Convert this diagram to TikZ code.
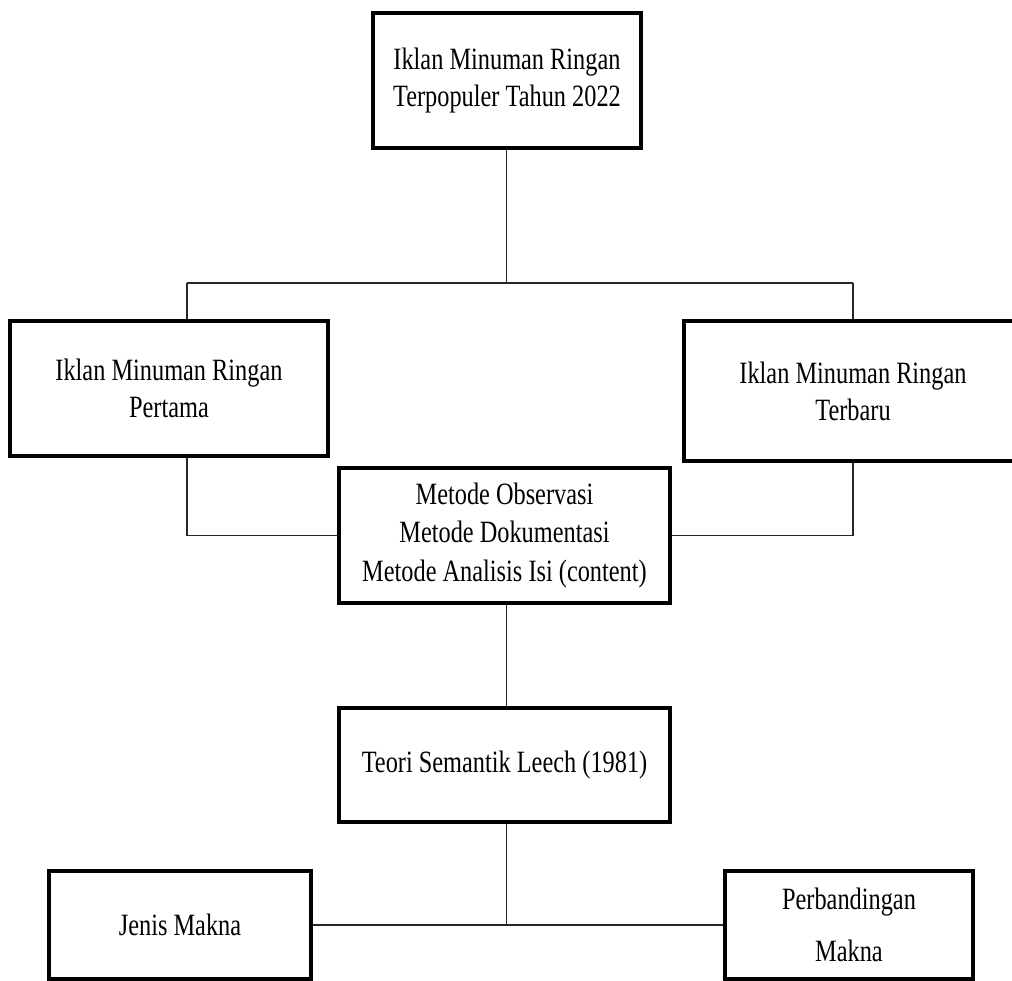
\documentclass[tikz,border=0pt]{standalone}
\usepackage{fontspec}
\setmainfont{Liberation Serif}[FakeStretch=0.785]
\begin{document}
\begin{tikzpicture}[x=1pt,y=-1pt,
  box/.style={draw=black,line width=3.5pt,rectangle,inner sep=0pt,align=center,
    font=\fontsize{31}{37}\selectfont},
  link/.style={draw=black!85,line width=1.8pt}]
\useasboundingbox[fill=white] (0,0) rectangle (1012,980);
\node[box,minimum width=268,minimum height=135] (top) at (507,80.5)
  {Iklan Minuman Ringan\\Terpopuler Tahun 2022};
\node[box,minimum width=318,minimum height=135] (lb) at (169,388.5)
  {Iklan Minuman Ringan\\Pertama};
\node[box,minimum width=338,minimum height=140] (rb) at (853,391)
  {Iklan Minuman Ringan\\Terbaru};
\node[box,minimum width=331,minimum height=135,font=\fontsize{31}{38.5}\selectfont] (mid) at (504.5,535.5)
  {Metode Observasi\\Metode Dokumentasi\\Metode Analisis Isi (content)};
\node[box,minimum width=331,minimum height=114] (teori) at (504.5,765)
  {Teori Semantik Leech (1981)};
\node[box,minimum width=262,minimum height=108] (jm) at (180,925)
  {Jenis Makna};
\node[box,minimum width=248,minimum height=108,font=\fontsize{31}{52}\selectfont] (pm) at (849,925)
  {Perbandingan\\Makna};
\coordinate (hl) at (187,283);
\coordinate (hr) at (853,283);
\coordinate (vc) at (506.5,0);
\draw[link] (top.south -| vc) -- (hl -| vc);
\draw[link] (hl) -- (hr);
\draw[link] (hl) -- (hl |- lb.north);
\draw[link] (hr) -- (rb.north);
\draw[link] (lb.south -| hl) |- (mid.west);
\draw[link] (rb.south) |- (mid.east);
\draw[link] (mid.south -| vc) -- (teori.north -| vc);
\draw[link] (teori.south -| vc) -- (jm.east -| vc);
\draw[link] (jm.east) -- (pm.west);
\end{tikzpicture}
\end{document}
